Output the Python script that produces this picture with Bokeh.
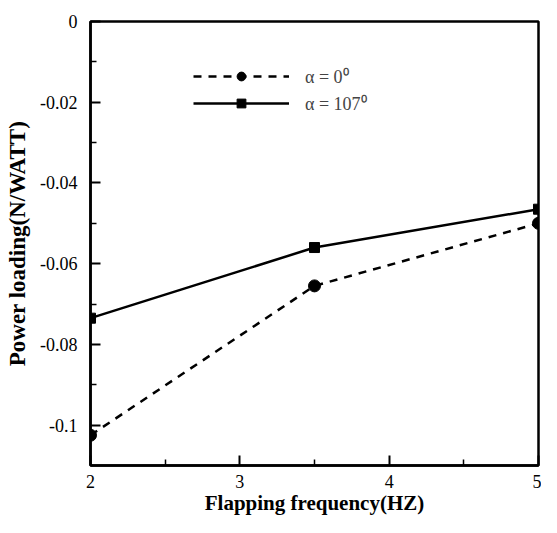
from bokeh.plotting import figure
from bokeh.models import Range1d, FixedTicker, Legend, LegendItem
from bokeh.embed import file_html
from bokeh.resources import INLINE

# data
freq = [2, 3.5, 5]
pl_alpha0 = [-0.1025, -0.0655, -0.0500]
pl_alpha107 = [-0.0735, -0.0560, -0.0465]
label_alpha0 = "α = 0⁰"
label_alpha107 = "α = 107⁰"

x_ticks = [2, 3, 4, 5]
x_minor = [2.5, 3.5, 4.5]
y_ticks = [0, -0.02, -0.04, -0.06, -0.08, -0.1]
y_tick_labels = ["0", "-0.02", "-0.04", "-0.06", "-0.08", "-0.1"]
y_minor = [-0.01, -0.03, -0.05, -0.07, -0.09]

FONT = "Liberation Serif"

p = figure(width=541, height=517, output_backend="svg", toolbar_location=None,
           x_range=Range1d(2, 5), y_range=Range1d(-0.11, 0),
           min_border_left=90, min_border_right=3, min_border_top=21, min_border_bottom=48)
p.xgrid.visible = False
p.ygrid.visible = False
p.outline_line_color = "black"
p.outline_line_width = 2.5
p.outline_line_alpha = 1.0

l1 = p.line(freq, pl_alpha0, line_color="black", line_width=2.5, line_dash="8 7")
s1 = p.scatter(freq, pl_alpha0, marker="circle", size=12, fill_color="black", line_color="black")
l2 = p.line(freq, pl_alpha107, line_color="black", line_width=2.5)
s2 = p.scatter(freq, pl_alpha107, marker="square", size=10, fill_color="black", line_color="black")

legend = Legend(items=[LegendItem(label=label_alpha0, renderers=[l1, s1]),
                       LegendItem(label=label_alpha107, renderers=[l2, s2])],
                location=(103, 350), padding=0, margin=0, spacing=3,
                glyph_width=96, glyph_height=22, label_height=22, label_standoff=16,
                label_text_font=FONT, label_text_font_size="18px",
                border_line_color=None, background_fill_alpha=0)
p.add_layout(legend, "center")

for ax in (p.xaxis[0], p.yaxis[0]):
    ax.axis_line_width = 2.5
    ax.axis_line_color = "black"
    ax.major_tick_in = 10
    ax.major_tick_out = 0
    ax.minor_tick_in = 6
    ax.minor_tick_out = 0
    ax.major_tick_line_width = 2
    ax.minor_tick_line_width = 1.5
    ax.major_label_text_font = FONT
    ax.major_label_text_font_size = "18px"
    ax.major_label_text_color = "black"
    ax.axis_label_text_font = FONT
    ax.axis_label_text_font_style = "bold"
    ax.axis_label_text_color = "black"

p.xaxis.ticker = FixedTicker(ticks=x_ticks, minor_ticks=x_minor)
p.yaxis.ticker = FixedTicker(ticks=y_ticks, minor_ticks=y_minor)
p.yaxis.major_label_overrides = {t: s for t, s in zip(y_ticks, y_tick_labels)}
p.xaxis.major_label_overrides = {t: str(t) for t in x_ticks}

p.xaxis.axis_label = "Flapping frequency(HZ)"
p.xaxis.axis_label_text_font_size = "21px"
p.xaxis.major_label_standoff = 9
p.xaxis.axis_label_standoff = 0

p.yaxis.axis_label = "Power loading(N/WATT)"
p.yaxis.axis_label_text_font_size = "23px"
p.yaxis.major_label_standoff = 13
p.yaxis.axis_label_standoff = 7

open("out.html", "w").write(file_html(p, INLINE))
